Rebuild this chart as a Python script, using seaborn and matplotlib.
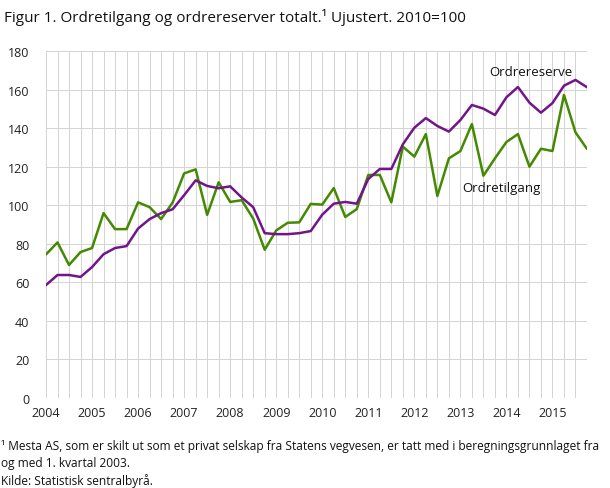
import numpy as np
import pandas as pd
import matplotlib
matplotlib.use("Agg")
import matplotlib.pyplot as plt
import seaborn as sns

# quarterly index, 2004K1 - 2015K4
years = list(range(2004, 2016))
quarters = [f"{y}K{q}" for y in years for q in range(1, 5)]

ordretilgang = [74.5, 80.7, 69.0, 75.7, 77.8, 95.9, 87.6, 87.6,
                101.5, 99.0, 92.8, 101.4, 116.5, 118.6, 95.0, 111.9,
                101.7, 102.6, 93.1, 76.9, 86.9, 90.9, 91.1, 100.7,
                100.3, 108.9, 93.9, 98.0, 115.7, 115.7, 101.5, 130.4,
                125.2, 136.9, 104.8, 124.3, 128.1, 142.1, 115.3, 124.3,
                132.8, 136.9, 120.0, 129.3, 128.1, 157.2, 137.8, 129.2]

ordrereserve = [58.6, 63.8, 63.8, 62.8, 67.9, 74.6, 77.8, 78.8,
                87.9, 92.8, 95.9, 97.9, 105.2, 112.9, 110.0, 108.8,
                109.8, 104.0, 99.0, 85.5, 85.0, 85.0, 85.5, 86.6,
                95.1, 100.8, 101.7, 100.8, 113.6, 118.8, 118.8, 131.6,
                140.2, 145.2, 141.1, 138.2, 144.2, 152.0, 150.1, 146.8,
                156.0, 161.3, 153.2, 148.0, 153.0, 162.0, 165.0, 161.2]

df = pd.DataFrame({
    "kvartal": quarters,
    "Ordretilgang": ordretilgang,
    "Ordrereserve": ordrereserve,
})
df["pos"] = np.arange(len(df))
long = df.melt(id_vars=["kvartal", "pos"], var_name="serie", value_name="indeks")

sns.set_style("white")
plt.rcParams["font.family"] = ["Open Sans", "DejaVu Sans"]

green = "#438a00"
purple = "#72158a"
grid = "#d4d4d4"

fig = plt.figure(figsize=(6.1, 4.89), dpi=100)
ax = fig.add_axes([46 / 610, 90 / 489, 541 / 610, 347 / 489])

sns.lineplot(data=long, x="pos", y="indeks", hue="serie",
             palette={"Ordretilgang": green, "Ordrereserve": purple},
             linewidth=1.8, legend=False, ax=ax, zorder=3)

ax.set_xlim(0, len(df) - 1)
ax.set_ylim(0, 180)

# one vertical grid line per quarter, plus horizontal grid (1 px wide)
ax.vlines(np.arange(len(df)), 0, 180, colors=grid, linewidths=0.72,
          zorder=0.5, antialiased=False)
ax.hlines(np.arange(0, 181, 20), 0, len(df) - 1, colors=grid, linewidths=0.72,
          zorder=0.5, antialiased=False)

ax.set_yticks(range(0, 181, 20))
ax.set_xticks(df["pos"].tolist()[::4])
ax.set_xticklabels([str(y) for y in years])
for s in ["top", "left", "bottom", "right"]:
    ax.spines[s].set_visible(False)
ax.tick_params(which="both", length=0, labelsize=9, colors="#222222")
ax.tick_params(axis="x", pad=6)
ax.tick_params(axis="y", pad=12)
ax.set_xlabel("")
ax.set_ylabel("")

ax.text(38.5, 166, "Ordrereserve", fontsize=9.5, color="#111111", ha="left", va="bottom")
ax.text(36.2, 106, "Ordretilgang", fontsize=9.5, color="#111111", ha="left", va="bottom")

fig.text(4 / 610, 1 - 18 / 489, "Figur 1. Ordretilgang og ordrereserver totalt.\u00b9 Ujustert. 2010=100",
         fontsize=11, color="#111111", ha="left", va="center")
fig.text(1 / 610, 1 - 440 / 489,
         "\u00b9 Mesta AS, som er skilt ut som et privat selskap fra Statens vegvesen, er tatt med i beregningsgrunnlaget fra\nog med 1. kvartal 2003.\nKilde: Statistisk sentralbyrå.",
         fontsize=8.6, color="#111111", ha="left", va="top", linespacing=1.4)

fig.savefig("out.png", dpi=100)
